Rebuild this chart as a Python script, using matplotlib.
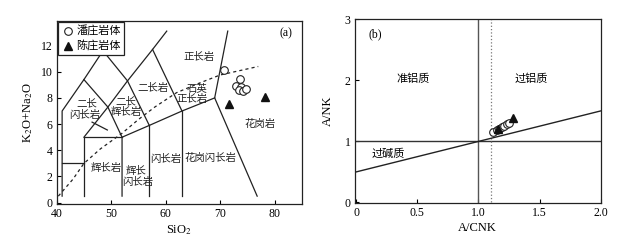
import matplotlib
matplotlib.use("Agg")
import matplotlib.pyplot as plt
from matplotlib.lines import Line2D

plt.rcParams['font.family'] = ['Liberation Serif', 'Noto Sans CJK SC']
plt.rcParams['mathtext.fontset'] = 'stix'
plt.rcParams['axes.unicode_minus'] = False

# --- (a) TAS data ---
panzhuang_sio2 = [70.8, 73.6, 73.0, 73.9, 73.5, 74.2, 74.7]
panzhuang_alk = [10.1, 9.45, 8.9, 8.85, 8.6, 8.55, 8.65]
chenzhuang_sio2 = [71.6, 78.3]
chenzhuang_alk = [7.55, 8.1]

# boundary lines of the classification diagram (SiO2, K2O+Na2O)
tas_lines = [
    [(45, 5), (49.4, 7.3), (53, 9.3), (57.6, 11.7), (60.2, 13.1)],
    [(41, 0.5), (41, 7), (45, 9.4), (48.5, 11.6), (53, 9.3), (57, 5.9)],
    [(45, 9.4), (49.4, 7.3), (52, 5)],
    [(57.6, 11.7), (63, 7)],
    [(46.5, 6.15), (49.3, 5.55)],
    [(41, 3), (45, 3)],
    [(45, 0.5), (45, 5), (52, 5)],
    [(52, 0.5), (52, 5), (57, 5.9), (63, 7), (69, 8)],
    [(57, 0.5), (57, 5.9)],
    [(63, 0.5), (63, 7)],
    [(71.4, 13.1), (69, 8), (76.8, 0.5)],
]
alk_curve_x = [40.3, 43, 45, 48, 52, 55, 58, 62, 66, 70, 77]
alk_curve_y = [0.5, 1.8, 3.0, 4.1, 5.3, 6.35, 7.3, 8.4, 9.1, 9.75, 10.4]

rock_labels = [
    (66.1, 11.1, '正长岩'), (57.6, 8.75, '二长岩'),
    (65.8, 8.7, '石英'), (64.8, 7.9, '正长岩'),
    (45.5, 7.6, '二长'), (45.2, 6.7, '闪长岩'),
    (52.7, 7.7, '二长'), (52.7, 6.9, '辉长岩'),
    (77.4, 6.0, '花岗岩'), (49.0, 2.65, '辉长岩'),
    (54.5, 2.4, '辉长'), (54.8, 1.6, '闪长岩'),
    (60.0, 3.3, '闪长岩'), (68.3, 3.4, '花岗闪长岩'),
]

# --- (b) A/CNK - A/NK data ---
panzhuang_acnk = [1.12, 1.15, 1.17, 1.19, 1.21, 1.23, 1.25]
panzhuang_ank = [1.15, 1.19, 1.21, 1.23, 1.26, 1.28, 1.30]
chenzhuang_acnk = [1.16, 1.28]
chenzhuang_ank = [1.21, 1.38]

fig = plt.figure(figsize=(6.27, 2.40), dpi=100)
ax1 = fig.add_axes([0.0904, 0.150, 0.391, 0.764])
ax2 = fig.add_axes([0.566, 0.154, 0.392, 0.765])

for seg in tas_lines:
    xs = [p[0] for p in seg]
    ys = [p[1] for p in seg]
    ax1.plot(xs, ys, color='#222222', lw=0.9, zorder=2)
ax1.plot(alk_curve_x, alk_curve_y, color='#222222', lw=0.9, ls=(0, (2.5, 2.5)), zorder=2)

for x, y, t in rock_labels:
    ax1.text(x, y, t, ha='center', va='center', fontsize=7.5, color='#222222', zorder=3)

ax1.plot(panzhuang_sio2, panzhuang_alk, 'o', mfc='white', mec='#222222', ms=5.5, mew=0.8, zorder=4)
ax1.plot(chenzhuang_sio2, chenzhuang_alk, '^', color='#111111', ms=6, zorder=4)
ax1.text(82.1, 12.9, '(a)', ha='center', va='center', fontsize=8.5)

handles = [Line2D([], [], marker='o', ls='', mfc='white', mec='#222222', ms=5.5, mew=0.8),
           Line2D([], [], marker='^', ls='', color='#111111', ms=6)]
leg = ax1.legend(handles, ['潘庄岩体', '陈庄岩体'], loc='upper left', fontsize=8,
                 frameon=True, fancybox=False, edgecolor='#222222', framealpha=1,
                 borderaxespad=0.15, handletextpad=0.1, handlelength=1.2,
                 borderpad=0.3, labelspacing=0.35)
leg.get_frame().set_linewidth(0.9)
leg.set_zorder(5)

ax1.set_xlim(40.2, 85)
ax1.set_ylim(-0.1, 13.9)
ax1.set_xticks([40, 50, 60, 70, 80])
ax1.set_yticks([0, 2, 4, 6, 8, 10, 12])
ax1.set_xlabel('SiO$_2$', fontsize=9, labelpad=2)
ax1.set_ylabel('K$_2$O+Na$_2$O', fontsize=9, labelpad=4)

# (b)
ax2.plot([1.0, 1.0], [0, 3], color='#555555', lw=1.0)
ax2.plot([0, 2.0], [1.0, 1.0], color='#333333', lw=1.0)
ax2.plot([1.1, 1.1], [0, 3], color='#777777', lw=0.9, ls=':')
ax2.plot([0, 2.0], [0.5, 1.5], color='#222222', lw=1.0)
ax2.plot(panzhuang_acnk, panzhuang_ank, 'o', mfc='white', mec='#222222', ms=5.5, mew=0.8, zorder=4)
ax2.plot(chenzhuang_acnk, chenzhuang_ank, '^', color='#111111', ms=6, zorder=4)
ax2.text(0.47, 2.03, '准铝质', ha='center', va='center', fontsize=8)
ax2.text(1.43, 2.03, '过铝质', ha='center', va='center', fontsize=8)
ax2.text(0.26, 0.80, '过碱质', ha='center', va='center', fontsize=8)
ax2.text(0.155, 2.75, '(b)', ha='center', va='center', fontsize=8.5)
ax2.set_xlim(-0.01, 2.0)
ax2.set_ylim(-0.01, 3.0)
ax2.set_xticks([0, 0.5, 1.0, 1.5, 2.0])
ax2.set_xticklabels(['0', '0.5', '1.0', '1.5', '2.0'])
ax2.set_yticks([0, 1, 2, 3])
ax2.set_xlabel('A/CNK', fontsize=9, labelpad=2)
ax2.set_ylabel('A/NK', fontsize=9, labelpad=8)

for ax in (ax1, ax2):
    for s in ax.spines.values():
        s.set_linewidth(0.9)
        s.set_color('#222222')
    ax.tick_params(direction='in', length=3, width=0.8, labelsize=8.5, pad=3)

fig.savefig('out.png', dpi=100)
